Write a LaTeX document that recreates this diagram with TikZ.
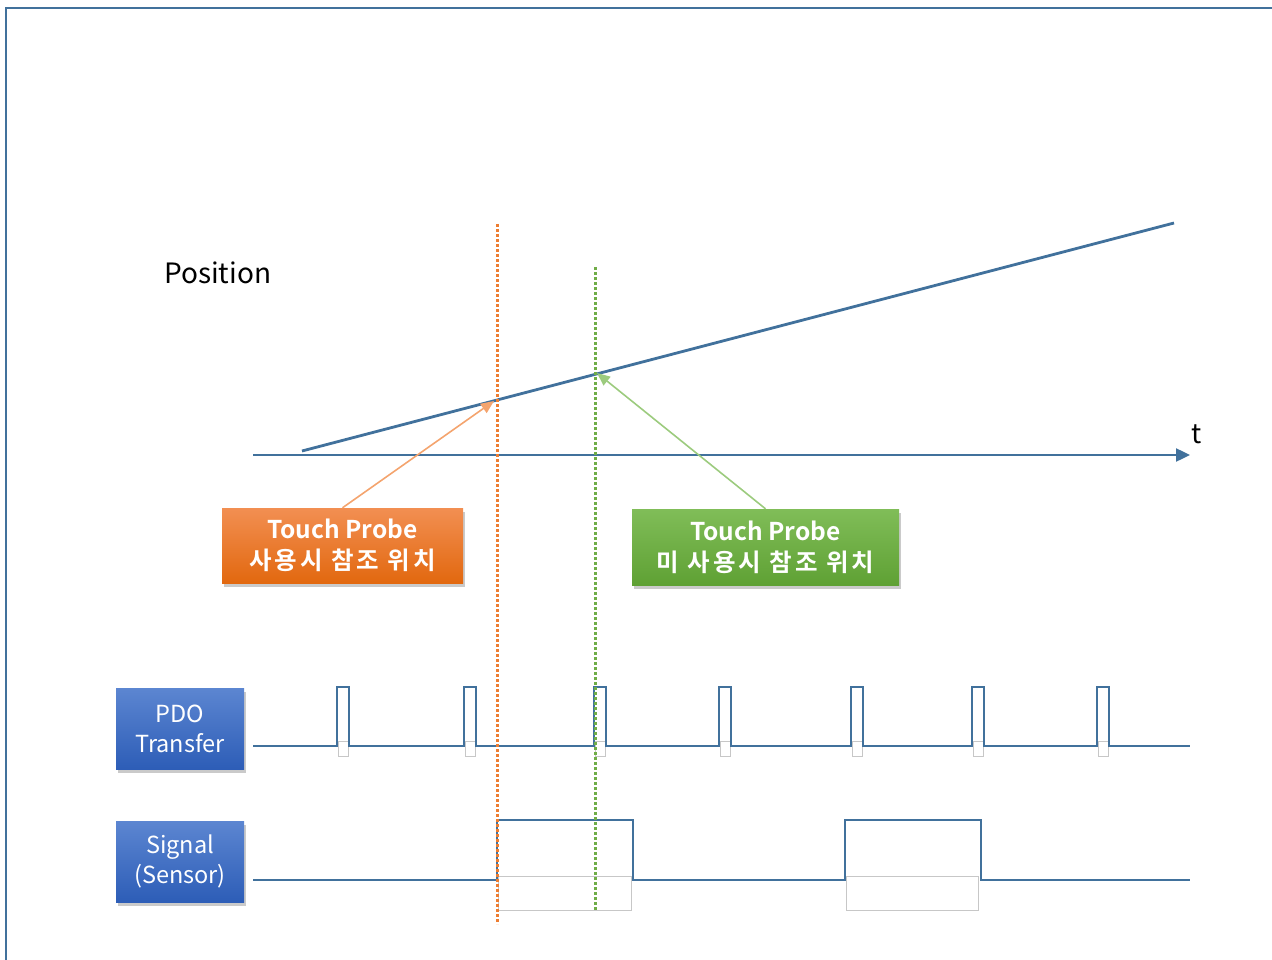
\documentclass[tikz,border=0pt]{standalone}
\usepackage{fontspec}
\setmainfont{Noto Sans CJK KR}[BoldFont={* Bold}]
\usetikzlibrary{arrows.meta,shadows}
\definecolor{frameblue}{HTML}{41719C}
\definecolor{sigblue}{HTML}{41719C}
\definecolor{dorange}{HTML}{ED7D31}
\definecolor{dgreen}{HTML}{70AD47}
\definecolor{aorange}{HTML}{F4A46E}
\definecolor{agreen}{HTML}{9CCB7E}
\definecolor{oTop}{HTML}{F28F52}
\definecolor{oBot}{HTML}{E2680F}
\definecolor{gTop}{HTML}{80BD58}
\definecolor{gBot}{HTML}{5FA134}
\definecolor{bTop}{HTML}{5C86D1}
\definecolor{bBot}{HTML}{2D5DB7}
\newcommand{\kr}[1]{{\addfontfeature{LetterSpace=12}#1}}
\tikzset{
  shadowed/.style={drop shadow={opacity=0.35,shadow xshift=2pt,shadow yshift=-4pt,fill=black!60}},
  callout/.style={shadowed,text=white,font=\bfseries\fontsize{24.5}{31}\selectfont,align=center,inner sep=0pt},
  obox/.style={callout,top color=oTop,bottom color=oBot,minimum width=241,minimum height=75},
  gbox/.style={callout,top color=gTop,bottom color=gBot,minimum width=267,minimum height=76},
  lbox/.style={shadowed,top color=bTop,bottom color=bBot,text=white,font=\fontsize{23.5}{30}\selectfont,align=center,minimum width=128,minimum height=81,inner sep=0pt},
  sig/.style={sigblue,line width=2.8pt},
  ghost/.style={draw=black!22,line width=1pt},
  vdot/.style={line width=3pt,dash pattern=on 3pt off 2pt},
}
\begin{document}
\begin{tikzpicture}[x=1pt,y=-1pt]
\useasboundingbox (0,0) rectangle (1272,960);
% frame
\draw[frameblue,line width=2pt] (6,960) -- (6,8) -- (1272,8);
% labels
\node[anchor=west,font=\fontsize{28}{30}\selectfont,inner sep=0pt] (pos) at (164,273) {Position};
\node[font=\fontsize{27}{30}\selectfont,inner sep=0pt] (tlab) at (1197,434) {t};
% time axis
\coordinate (ax0) at (253,455);
\coordinate (ax1) at (1190,455);
\draw[sigblue,line width=2.4pt,-{Triangle[length=14pt,width=13pt]}] (ax0) -- (ax1);
% position ramp
\coordinate (r0) at (302,451);
\coordinate (r1) at (1174,223);
\draw[sigblue,line width=2.8pt] (r0) -- (r1);
% ghost rectangles
\foreach \x in {338,465,595,720,852,973,1098}
  \draw[ghost] (\x,741) rectangle ++(10,15);
\draw[ghost] (498,876) rectangle (631,910);
\draw[ghost] (846,876) rectangle (978,910);
% PDO pulse train
\draw[sig] (253,746) -- (337,746) -- (337,687) -- (349,687) -- (349,746)
  -- (464,746) -- (464,687) -- (476,687) -- (476,746)
  -- (594,746) -- (594,687) -- (606,687) -- (606,746)
  -- (719,746) -- (719,687) -- (731,687) -- (731,746)
  -- (851,746) -- (851,687) -- (863,687) -- (863,746)
  -- (972,746) -- (972,687) -- (984,687) -- (984,746)
  -- (1097,746) -- (1097,687) -- (1109,687) -- (1109,746) -- (1190,746);
% signal train
\draw[sig] (253,880) -- (497,880) -- (497,820) -- (633,820) -- (633,880)
  -- (845,880) -- (845,820) -- (981,820) -- (981,880) -- (1190,880);
% dotted verticals
\coordinate (o0) at (497,224);
\coordinate (o1) at (497,924);
\coordinate (g0) at (595,267);
\coordinate (g1) at (595,910);
\draw[dorange,vdot] (o0) -- (o1);
\draw[dgreen,vdot] (g0) -- (g1);
% callout boxes
\node[obox] (tp1) at (342.5,545.5) {Touch Probe\\\kr{사용시 참조 위치}};
\node[gbox] (tp2) at (765.5,547) {Touch Probe\\\kr{미 사용시 참조 위치}};
\coordinate (hit1) at (494,401);
\coordinate (hit2) at (597,373);
\draw[aorange,line width=1.6pt,-{Triangle[length=13pt,width=11pt]}] (tp1.north) -- (hit1);
\draw[agreen,line width=1.6pt,-{Triangle[length=13pt,width=11pt]}] (tp2.north) -- (hit2);
% label boxes
\node[lbox] (pdo) at (180,728.5) {PDO\\Transfer};
\node[lbox] (sgn) at (180,861.5) {Signal\\(Sensor)};
\end{tikzpicture}
\end{document}
